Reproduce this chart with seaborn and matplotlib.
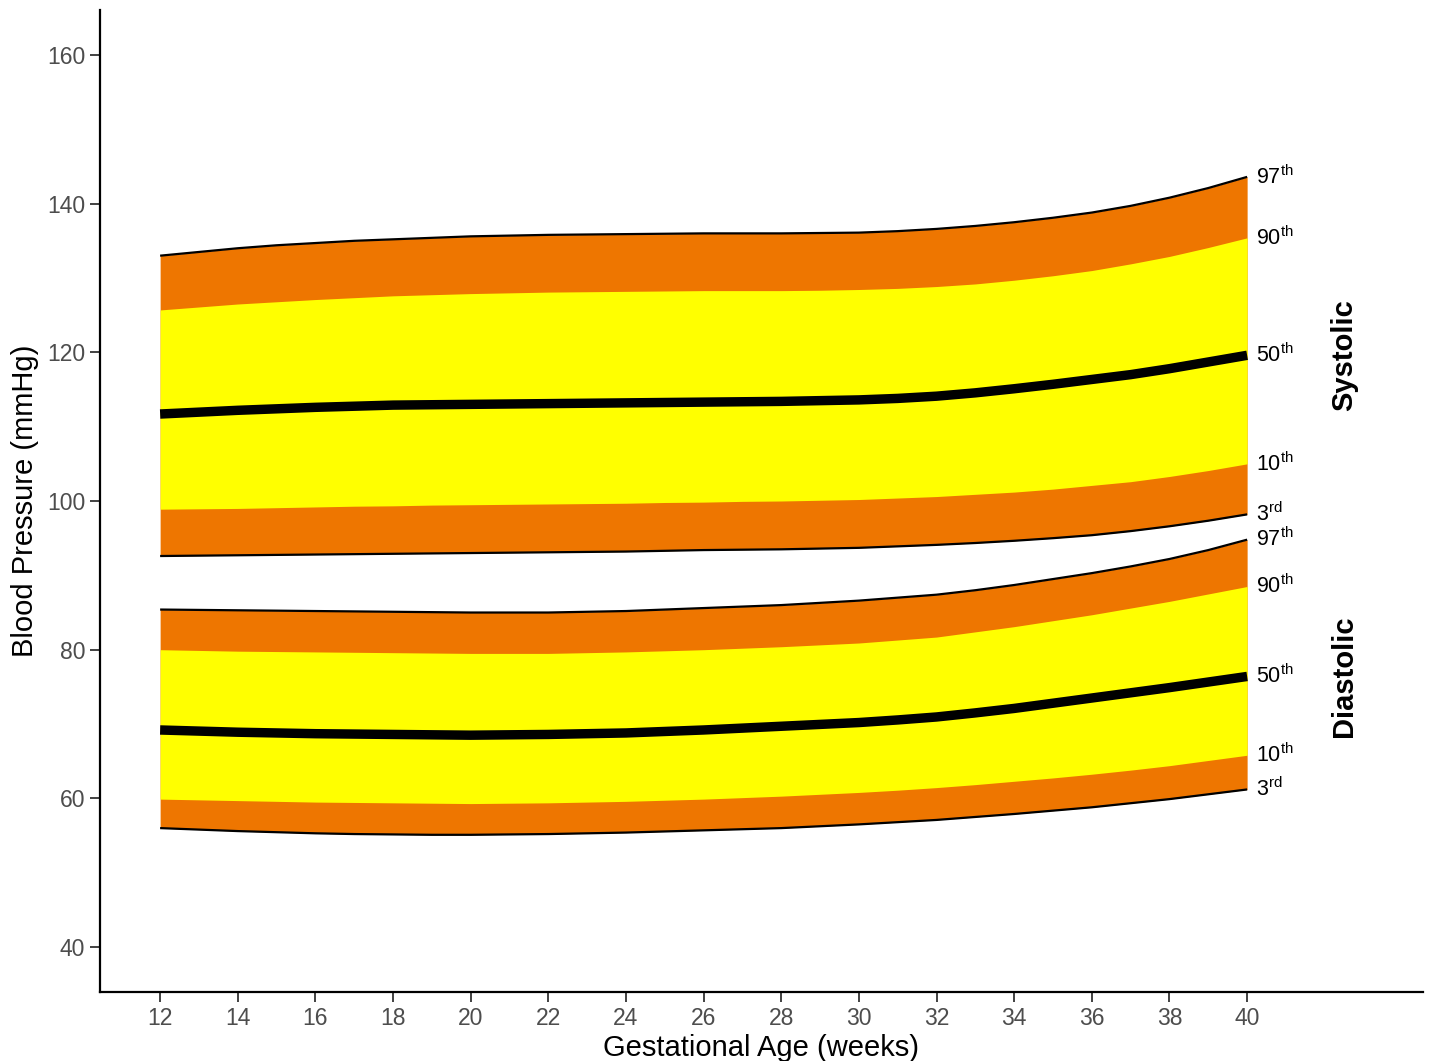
import numpy as np
import pandas as pd
import matplotlib
matplotlib.use("Agg")
import matplotlib.pyplot as plt
import seaborn as sns

# Gestational age (weeks)
weeks = list(range(12, 41))

# Systolic blood pressure centiles (mmHg), weeks 12..40
sys_p3 = [92.6, 92.65, 92.7, 92.75, 92.8, 92.85, 92.9, 92.95, 93.0, 93.05,
          93.1, 93.15, 93.2, 93.3, 93.4, 93.45, 93.5, 93.6, 93.7, 93.9,
          94.1, 94.35, 94.65, 95.0, 95.4, 95.95, 96.6, 97.35, 98.2]
sys_p10 = [98.9, 98.95, 99.0, 99.1, 99.2, 99.3, 99.35, 99.45, 99.5, 99.55,
           99.6, 99.65, 99.7, 99.8, 99.85, 99.95, 100.0, 100.1, 100.2, 100.4,
           100.6, 100.9, 101.2, 101.6, 102.1, 102.6, 103.3, 104.1, 105.0]
sys_p50 = [111.7, 111.95, 112.2, 112.4, 112.6, 112.75, 112.9, 112.95, 113.0, 113.05,
           113.1, 113.15, 113.2, 113.25, 113.3, 113.35, 113.4, 113.5, 113.6, 113.8,
           114.1, 114.55, 115.1, 115.7, 116.35, 117.0, 117.8, 118.7, 119.6]
sys_p90 = [125.7, 126.1, 126.5, 126.8, 127.1, 127.35, 127.6, 127.75, 127.9, 128.0,
           128.1, 128.15, 128.2, 128.25, 128.3, 128.3, 128.3, 128.35, 128.45, 128.6,
           128.85, 129.2, 129.7, 130.3, 131.0, 131.9, 132.9, 134.1, 135.4]
sys_p97 = [133.0, 133.5, 134.0, 134.4, 134.7, 135.0, 135.2, 135.4, 135.6, 135.7,
           135.8, 135.85, 135.9, 135.95, 136.0, 136.0, 136.0, 136.05, 136.1, 136.3,
           136.6, 137.0, 137.5, 138.1, 138.8, 139.7, 140.8, 142.1, 143.6]

# Diastolic blood pressure centiles (mmHg), weeks 12..40
dia_p3 = [56.0, 55.8, 55.6, 55.45, 55.3, 55.2, 55.15, 55.1, 55.1, 55.15,
          55.2, 55.3, 55.4, 55.55, 55.7, 55.85, 56.0, 56.25, 56.5, 56.8,
          57.1, 57.5, 57.9, 58.35, 58.8, 59.35, 59.9, 60.55, 61.2]
dia_p10 = [59.9, 59.8, 59.7, 59.6, 59.5, 59.45, 59.4, 59.35, 59.3, 59.35,
           59.4, 59.5, 59.6, 59.75, 59.9, 60.1, 60.3, 60.55, 60.8, 61.1,
           61.45, 61.85, 62.3, 62.75, 63.25, 63.8, 64.4, 65.1, 65.8]
dia_p50 = [69.2, 69.05, 68.9, 68.8, 68.7, 68.65, 68.6, 68.55, 68.5, 68.55,
           68.6, 68.7, 68.8, 69.0, 69.2, 69.45, 69.7, 69.95, 70.2, 70.55,
           70.95, 71.5, 72.1, 72.8, 73.5, 74.2, 74.9, 75.65, 76.4]
dia_p90 = [80.0, 79.9, 79.8, 79.75, 79.7, 79.65, 79.6, 79.55, 79.5, 79.5,
           79.5, 79.6, 79.7, 79.85, 80.0, 80.2, 80.4, 80.65, 80.9, 81.3,
           81.7, 82.4, 83.1, 83.9, 84.7, 85.6, 86.5, 87.5, 88.5]
dia_p97 = [85.4, 85.35, 85.3, 85.25, 85.2, 85.15, 85.1, 85.05, 85.0, 85.0,
           85.0, 85.1, 85.2, 85.4, 85.6, 85.8, 86.0, 86.3, 86.6, 87.0,
           87.4, 88.0, 88.7, 89.5, 90.3, 91.2, 92.2, 93.4, 94.8]

centile_labels = ["3", "10", "50", "90", "97"]
centile_suffix = ["rd", "th", "th", "th", "th"]
panel_names = ["Systolic", "Diastolic"]
x_ticks = list(range(12, 41, 2))
y_ticks = [40, 60, 80, 100, 120, 140, 160]

ORANGE = "#EE7600"
YELLOW = "#FFFF00"

sns.set_style("ticks")
plt.rcParams["font.family"] = ["Liberation Sans", "DejaVu Sans"]
plt.rcParams["mathtext.fontset"] = "custom"
plt.rcParams["mathtext.rm"] = "Liberation Sans"
plt.rcParams["mathtext.it"] = "Liberation Sans"

fig = plt.figure(figsize=(14.3, 10.61), dpi=100)
ax = fig.add_axes([0.0699, 0.065, 0.9252, 0.9256])

groups = [
    (panel_names[0], sys_p3, sys_p10, sys_p50, sys_p90, sys_p97),
    (panel_names[1], dia_p3, dia_p10, dia_p50, dia_p90, dia_p97),
]

for name, p3, p10, p50, p90, p97 in groups:
    df = pd.DataFrame({"week": weeks, "p3": p3, "p10": p10, "p50": p50,
                       "p90": p90, "p97": p97})
    ax.fill_between(df["week"], df["p3"], df["p97"], color=ORANGE, lw=0, zorder=1)
    ax.fill_between(df["week"], df["p10"], df["p90"], color=YELLOW, lw=0, zorder=2)
    for col in ["p3", "p97"]:
        sns.lineplot(data=df, x="week", y=col, ax=ax, color="black", lw=1.6,
                     zorder=3, solid_capstyle="butt")
    sns.lineplot(data=df, x="week", y="p50", ax=ax, color="black", lw=6.8,
                 zorder=4, solid_capstyle="butt")

    # Centile labels at the right end of each curve
    ends = [p3[-1], p10[-1], p50[-1], p90[-1], p97[-1]]
    for lab, suf, yv in zip(centile_labels, centile_suffix, ends):
        ax.text(40.22, yv, lab + r"$^{\mathrm{" + suf + "}}$", fontsize=15.5,
                ha="left", va="center", color="black", zorder=5)
    ax.text(42.5, p50[-1], name, rotation=90, fontsize=21, fontweight="bold",
            ha="center", va="center", color="black")

ax.set_xlim(10.45, 44.53)
ax.set_ylim(33.95, 166.05)
ax.set_xticks(x_ticks)
ax.set_yticks(y_ticks)
ax.tick_params(axis="both", labelsize=16.5, labelcolor="#4D4D4D", color="#333333",
               length=7, width=1.3)
ax.set_xlabel("Gestational Age (weeks)", fontsize=21, color="black", labelpad=3)
ax.set_ylabel("Blood Pressure (mmHg)", fontsize=21, color="black", labelpad=6)
for side in ["left", "bottom"]:
    ax.spines[side].set_linewidth(1.6)
    ax.spines[side].set_color("black")
sns.despine(ax=ax)

fig.savefig("out.png", dpi=100)
